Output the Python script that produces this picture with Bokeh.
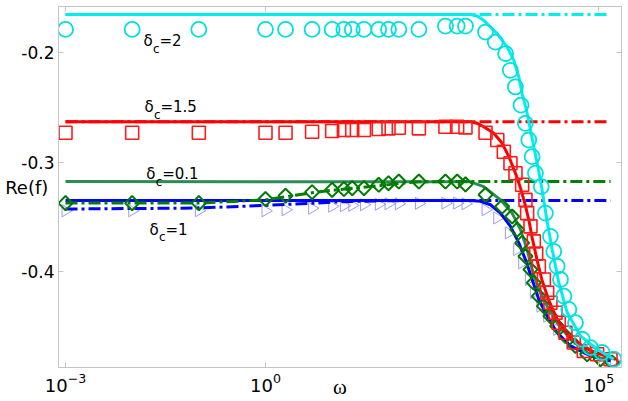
import math
from bokeh.plotting import figure
from bokeh.models import (Range1d, FixedTicker, LinearAxis, LogAxis, Label,
                          CustomJSTickFormatter)
from bokeh.embed import file_html
from bokeh.resources import INLINE

# ---------------- data ----------------
x_ticks = [1e-3, 1.0, 1e5]
y_ticks = [-0.4, -0.3, -0.2]

# delta_c = 2 (cyan)
cyan_model_w = [1e-3, 1190, 1500, 1880, 2990, 4220, 5310, 6310, 7080, 8220, 9230,
                10600, 12200, 14100, 16800, 20000, 25100, 33500, 53100, 94400, 168000]
cyan_model_v = [-0.1652, -0.1652, -0.1665, -0.1706, -0.1827, -0.1949, -0.2070, -0.2222,
                -0.2373, -0.2525, -0.2676, -0.2858, -0.3040, -0.3251, -0.3543, -0.3797,
                -0.4097, -0.4370, -0.4585, -0.4706, -0.4797]
cyan_asym_w = [1e-3, 135000]
cyan_asym_v = [-0.1652, -0.1652]
cyan_sim_w = [1e-3, 1e-2, 1e-1, 1, 2, 5, 10, 15, 20, 30, 50, 70, 100, 200, 500, 750, 1000,
              2000, 2800, 4000, 4700, 5600, 6800, 7900, 8900, 10000, 11200, 13700, 15800,
              18800, 21100, 23700, 26600, 29900, 35500, 44700, 56200, 75000, 112000, 168000]
cyan_sim_v = [-0.1788, -0.1788, -0.1788, -0.1788, -0.1788, -0.1788, -0.1788, -0.1788,
              -0.1788, -0.1788, -0.1788, -0.1788, -0.1788, -0.1788, -0.1758, -0.1758,
              -0.1758, -0.1812, -0.1904, -0.2009, -0.2161, -0.2313, -0.2479, -0.2645,
              -0.2797, -0.2949, -0.3100, -0.3222, -0.3464, -0.3676, -0.3813, -0.3949,
              -0.4070, -0.4222, -0.4343, -0.4464, -0.4615, -0.4691, -0.4736, -0.4797]

# delta_c = 1.5 (red)
red_model_w = [1e-3, 1190, 1500, 1880, 2660, 3550, 4470, 5620, 6680, 7940, 8910, 10000,
               11900, 14100, 17800, 23700, 35500, 59600, 106000, 178000]
red_model_v = [-0.2631, -0.2631, -0.2645, -0.2676, -0.2736, -0.2827, -0.2949, -0.3100,
               -0.3234, -0.3397, -0.3525, -0.3688, -0.3897, -0.4079, -0.4261, -0.4434,
               -0.4585, -0.4691, -0.4752, -0.4797]
red_asym_w = [1e-3, 150000]
red_asym_v = [-0.2631, -0.2631]
red_sim_w = [1e-3, 1e-2, 1e-1, 1, 2, 5, 10, 15, 20, 30, 50, 70, 100, 200, 500, 750, 1000,
             2000, 3000, 3760, 4730, 5620, 7080, 7940, 8410, 9440, 10600, 11500, 12600,
             15000, 16800, 18800, 22400, 25100, 31600, 42200, 59600, 94400, 150000]
red_sim_v = [-0.2731, -0.2731, -0.2731, -0.2731, -0.2731, -0.2722, -0.2715, -0.2706,
             -0.2706, -0.2706, -0.2697, -0.2691, -0.2685, -0.2691, -0.2676, -0.2676,
             -0.2682, -0.2731, -0.2797, -0.2904, -0.3009, -0.3100, -0.3206, -0.3343,
             -0.3464, -0.3585, -0.3722, -0.3834, -0.3949, -0.4070, -0.4191, -0.4282,
             -0.4373, -0.4464, -0.4555, -0.4645, -0.4722, -0.4752, -0.4797]

# delta_c = 0.1 (green)
green_model_w = [1e-3, 1190, 1880, 3350, 5010, 6680, 8410, 10000, 12600, 16800, 23700,
                 37600, 66800, 133000]
green_model_v = [-0.3176, -0.3179, -0.3222, -0.3343, -0.3464, -0.3615, -0.3797, -0.3979,
                 -0.4161, -0.4313, -0.4464, -0.4615, -0.4736, -0.4813]
green_asym_w = [1e-3, 0.1, 1, 2, 5, 10, 20, 50, 100, 200, 600, 150000]
green_asym_v = [-0.3373, -0.3373, -0.3343, -0.3315, -0.3279, -0.3256, -0.3238, -0.3215,
                -0.3193, -0.3179, -0.3176, -0.3176]
green_sim_w = [1e-3, 1e-2, 1e-1, 1, 2, 5, 10, 15, 20, 30, 50, 70, 100, 200, 500, 750, 1000,
               2000, 3550, 5010, 5960, 7080, 7940, 9440, 10600, 12600, 15000, 18800, 23700,
               31600, 44700, 66800, 106000, 158000]
green_sim_v = [-0.3373, -0.3373, -0.3373, -0.3336, -0.3306, -0.3273, -0.3252, -0.3245,
               -0.3236, -0.3236, -0.3206, -0.3191, -0.3176, -0.3176, -0.3176, -0.3176,
               -0.3202, -0.3297, -0.3404, -0.3495, -0.3615, -0.3736, -0.3858, -0.3979,
               -0.4100, -0.4222, -0.4313, -0.4404, -0.4495, -0.4585, -0.4676, -0.4752,
               -0.4797, -0.4827]

# delta_c = 1 (blue)
blue_model_w = [1e-3, 1190, 1680, 2370, 3350, 4730, 6310, 7940, 10000, 12600, 16800,
                23700, 37600, 75000, 150000]
blue_model_v = [-0.3349, -0.3349, -0.3356, -0.3388, -0.3464, -0.3585, -0.3736, -0.3888,
                -0.4070, -0.4252, -0.4404, -0.4555, -0.4676, -0.4767, -0.4813]
blue_asym_w = [1e-3, 0.1, 1, 5, 13, 50, 200, 150000]
blue_asym_v = [-0.3427, -0.3418, -0.3393, -0.3375, -0.3361, -0.3352, -0.3349, -0.3349]
blue_sim_w = [1e-3, 1e-2, 1e-1, 1, 2, 5, 10, 15, 20, 30, 50, 70, 100, 200, 500, 750, 1000,
              2000, 2990, 4470, 5960, 7080, 8910, 10600, 13300, 16800, 23700, 37600,
              59600, 106000, 168000]
blue_sim_v = [-0.3443, -0.3443, -0.3443, -0.3443, -0.3434, -0.3420, -0.3402, -0.3397,
              -0.3393, -0.3388, -0.3384, -0.3379, -0.3379, -0.3375, -0.3373, -0.3373,
              -0.3379, -0.3434, -0.3509, -0.3645, -0.3797, -0.3918, -0.4070, -0.4191,
              -0.4313, -0.4404, -0.4525, -0.4645, -0.4722, -0.4782, -0.4813]

curve_labels = ["=2", "=1.5", "=0.1", "=1"]

# ---------------- layout / style ----------------
GRAY = "#c4c4c4"
FONT = "DejaVu Sans"
X0, X1 = 7.85e-4, 2.19e5
Y0, Y1 = -0.48727, -0.15791

p = figure(width=628, height=401, x_axis_type="log", output_backend="svg",
           toolbar_location=None, x_range=Range1d(X0, X1), y_range=Range1d(Y0, Y1),
           min_border_left=58, min_border_right=7, min_border_top=6, min_border_bottom=33)
p.xgrid.visible = False
p.ygrid.visible = False
p.outline_line_color = GRAY
p.outline_line_width = 1

empty = CustomJSTickFormatter(code="return ''")

xa = p.xaxis[0]
xa.ticker = FixedTicker(ticks=x_ticks)
xa.major_label_text_font = FONT
xa.major_label_text_font_size = "18px"
xa.major_label_text_color = "black"
xa.major_label_standoff = 5
xa.axis_label = "ω"
xa.axis_label_text_font = "Liberation Serif"
xa.axis_label_text_font_style = "normal"
xa.axis_label_text_font_size = "21px"
xa.axis_label_text_color = "black"
xa.axis_label_standoff = -20

ya = p.yaxis[0]
ya.ticker = FixedTicker(ticks=y_ticks)
ya.formatter = CustomJSTickFormatter(code="return tick.toFixed(1)")
ya.major_label_text_font = FONT
ya.major_label_text_font_size = "17px"
ya.major_label_text_color = "black"
ya.major_label_standoff = 4
ya.axis_label = "Re(f)"
ya.axis_label_orientation = "horizontal"
ya.axis_label_text_font = FONT
ya.axis_label_text_font_style = "normal"
ya.axis_label_text_font_size = "18px"
ya.axis_label_text_color = "black"
ya.axis_label_standoff = -30

for ax in (xa, ya):
    ax.axis_line_color = GRAY
    ax.major_tick_line_color = GRAY
    ax.major_tick_in = 5
    ax.major_tick_out = 0
    ax.minor_tick_line_color = None

ra = LinearAxis(ticker=FixedTicker(ticks=y_ticks), formatter=empty)
ta = LogAxis(ticker=FixedTicker(ticks=x_ticks), formatter=empty)
for ax in (ra, ta):
    ax.axis_line_color = GRAY
    ax.major_tick_line_color = GRAY
    ax.major_tick_in = 5
    ax.major_tick_out = 0
    ax.minor_tick_line_color = None
    ax.major_label_standoff = 0
    ax.major_label_text_font_size = "1px"
p.add_layout(ra, "right")
p.add_layout(ta, "above")

DASH = "12 4 3 4"

# blue (delta_c = 1)
p.scatter(blue_sim_w, blue_sim_v, marker="triangle", angle=-math.pi / 2, size=12,
          fill_color=None, line_color="#9c9cf4", line_width=1)
p.line(blue_model_w, blue_model_v, line_color="#0000ff", line_width=3)
p.line(blue_asym_w, blue_asym_v, line_color="#0000ff", line_width=3, line_dash=DASH)

# green (delta_c = 0.1)
p.line(green_model_w, green_model_v, line_color="#2e8b57", line_width=3)
p.line(green_asym_w, green_asym_v, line_color="#008000", line_width=3, line_dash=DASH)
p.scatter(green_sim_w, green_sim_v, marker="square", angle=math.pi / 4, size=10,
          fill_color=None, line_color="#007a00", line_width=2)

# red (delta_c = 1.5)
p.line(red_model_w, red_model_v, line_color="#ff0000", line_width=3)
p.line(red_asym_w, red_asym_v, line_color="#ff0000", line_width=3, line_dash=DASH)
p.scatter(red_sim_w, red_sim_v, marker="square", size=13,
          fill_color=None, line_color="#ff1a1a", line_width=1.6)

# cyan (delta_c = 2)
p.line(cyan_model_w, cyan_model_v, line_color="#00eeee", line_width=3)
p.line(cyan_asym_w, cyan_asym_v, line_color="#00eeee", line_width=3, line_dash=DASH)
p.scatter(cyan_sim_w, cyan_sim_v, marker="circle", size=15,
          fill_color=None, line_color="#00e0e0", line_width=1.8)

# curve annotations  (anchor positions of the texts)
lab_x = [0.0148, 0.0153, 0.0162, 0.0182]
lab_y = [-0.18945, -0.25, -0.31115, -0.36155]
for lx, ly, t in zip(lab_x, lab_y, curve_labels):
    p.add_layout(Label(x=lx, y=ly, text="δ", text_font=FONT, text_font_size="15px",
                       text_baseline="alphabetic", text_align="left", text_color="black"))
    p.add_layout(Label(x=lx, y=ly, text="c", x_offset=9.5, y_offset=-7.5, text_font=FONT,
                       text_font_size="12px", text_baseline="alphabetic",
                       text_align="left", text_color="black"))
    p.add_layout(Label(x=lx, y=ly, text=t, x_offset=16, text_font=FONT,
                       text_font_size="15px", text_baseline="alphabetic",
                       text_align="left", text_color="black"))

open("out.html", "w").write(file_html(p, INLINE))
